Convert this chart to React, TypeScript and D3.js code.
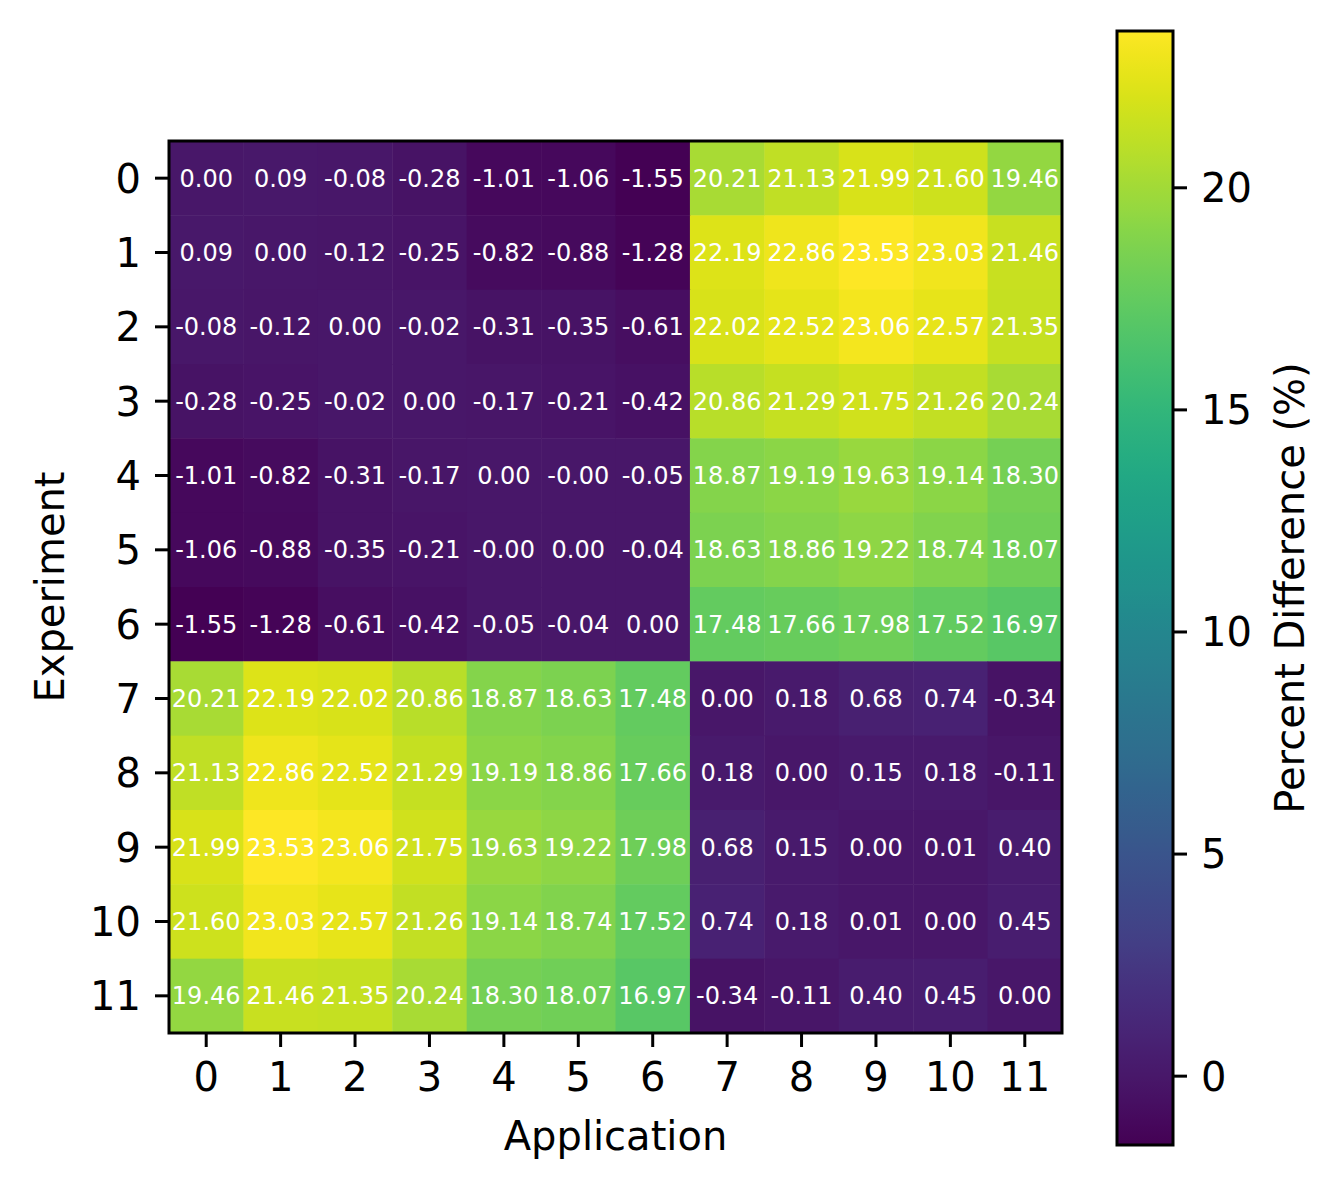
import React from "react";
import * as d3 from "d3";

const applications = ["0","1","2","3","4","5","6","7","8","9","10","11"];
const experiments = ["0","1","2","3","4","5","6","7","8","9","10","11"];

const row0 = [0.0, 0.09, -0.08, -0.28, -1.01, -1.06, -1.55, 20.21, 21.13, 21.99, 21.6, 19.46];
const row1 = [0.09, 0.0, -0.12, -0.25, -0.82, -0.88, -1.28, 22.19, 22.86, 23.53, 23.03, 21.46];
const row2 = [-0.08, -0.12, 0.0, -0.02, -0.31, -0.35, -0.61, 22.02, 22.52, 23.06, 22.57, 21.35];
const row3 = [-0.28, -0.25, -0.02, 0.0, -0.17, -0.21, -0.42, 20.86, 21.29, 21.75, 21.26, 20.24];
const row4 = [-1.01, -0.82, -0.31, -0.17, 0.0, -0.001, -0.05, 18.87, 19.19, 19.63, 19.14, 18.3];
const row5 = [-1.06, -0.88, -0.35, -0.21, -0.001, 0.0, -0.04, 18.63, 18.86, 19.22, 18.74, 18.07];
const row6 = [-1.55, -1.28, -0.61, -0.42, -0.05, -0.04, 0.0, 17.48, 17.66, 17.98, 17.52, 16.97];
const row7 = [20.21, 22.19, 22.02, 20.86, 18.87, 18.63, 17.48, 0.0, 0.18, 0.68, 0.74, -0.34];
const row8 = [21.13, 22.86, 22.52, 21.29, 19.19, 18.86, 17.66, 0.18, 0.0, 0.15, 0.18, -0.11];
const row9 = [21.99, 23.53, 23.06, 21.75, 19.63, 19.22, 17.98, 0.68, 0.15, 0.0, 0.01, 0.4];
const row10 = [21.6, 23.03, 22.57, 21.26, 19.14, 18.74, 17.52, 0.74, 0.18, 0.01, 0.0, 0.45];
const row11 = [19.46, 21.46, 21.35, 20.24, 18.3, 18.07, 16.97, -0.34, -0.11, 0.4, 0.45, 0.0];
const matrix = [row0, row1, row2, row3, row4, row5, row6, row7, row8, row9, row10, row11];

const colorbarTicks = [0, 5, 10, 15, 20];

const FONT = "DejaVu Sans, sans-serif";

export default function App() {
  const left = 169, top = 141, right = 1062, bottom = 1033;
  const x = d3.scaleBand().domain(applications).range([left, right]).padding(0);
  const y = d3.scaleBand().domain(experiments).range([top, bottom]).padding(0);
  const all = matrix.flat();
  const vmin = d3.min(all)!;
  const vmax = d3.max(all)!;
  const color = d3.scaleSequential(d3.interpolateViridis).domain([vmin, vmax]);

  const cbLeft = 1117, cbRight = 1173, cbTop = 31, cbBottom = 1145;
  const cbScale = d3.scaleLinear().domain([vmin, vmax]).range([cbBottom, cbTop]);
  const stops = d3.range(0, 1.0001, 0.02);

  const tickLen = 14;
  const tickFont = 40;

  return (
    <svg width={1342} height={1190} style={{ position: "absolute", left: 0, top: 0, background: "white" }} fontFamily={FONT}>
      <defs>
        <linearGradient id="cb" x1="0" y1="1" x2="0" y2="0">
          {stops.map((t, i) => (
            <stop key={i} offset={`${t * 100}%`} stopColor={d3.interpolateViridis(t)} />
          ))}
        </linearGradient>
      </defs>
      {matrix.map((row, r) =>
        row.map((v, c) => (
          <rect key={`c${r}-${c}`} x={x(applications[c])!} y={y(experiments[r])!}
            width={x.bandwidth() + 0.5} height={y.bandwidth() + 0.5} fill={color(v)} />
        ))
      )}
      {matrix.map((row, r) =>
        row.map((v, c) => (
          <text key={`t${r}-${c}`} x={x(applications[c])! + x.bandwidth() / 2}
            y={y(experiments[r])! + y.bandwidth() / 2} dy="0.36em"
            textAnchor="middle" fontSize={24} fill="white">{v.toFixed(2)}</text>
        ))
      )}
      <rect x={left} y={top} width={right - left} height={bottom - top} fill="none" stroke="black" strokeWidth={3} />
      {applications.map((a) => {
        const cx = x(a)! + x.bandwidth() / 2;
        return (
          <g key={`xa${a}`}>
            <line x1={cx} x2={cx} y1={bottom} y2={bottom + tickLen} stroke="black" strokeWidth={3} />
            <text x={cx} y={bottom + tickLen + 14} dy="0.76em" textAnchor="middle" fontSize={tickFont}>{a}</text>
          </g>
        );
      })}
      {experiments.map((e) => {
        const cy = y(e)! + y.bandwidth() / 2;
        return (
          <g key={`ya${e}`}>
            <line x1={left - tickLen} x2={left} y1={cy} y2={cy} stroke="black" strokeWidth={3} />
            <text x={left - tickLen - 14} y={cy} dy="0.36em" textAnchor="end" fontSize={tickFont}>{e}</text>
          </g>
        );
      })}
      <text x={(left + right) / 2} y={1150} textAnchor="middle" fontSize={tickFont}>Application</text>
      <text transform={`translate(64,${(top + bottom) / 2}) rotate(-90)`} textAnchor="middle" fontSize={tickFont}>Experiment</text>

      <rect x={cbLeft} y={cbTop} width={cbRight - cbLeft} height={cbBottom - cbTop} fill="url(#cb)" stroke="black" strokeWidth={3} />
      {colorbarTicks.map((t) => {
        const ty = cbScale(t);
        return (
          <g key={`cb${t}`}>
            <line x1={cbRight} x2={cbRight + tickLen} y1={ty} y2={ty} stroke="black" strokeWidth={3} />
            <text x={cbRight + tickLen + 14} y={ty} dy="0.36em" textAnchor="start" fontSize={tickFont}>{t}</text>
          </g>
        );
      })}
      <text transform={`translate(1304,${(cbTop + cbBottom) / 2}) rotate(-90)`} textAnchor="middle" fontSize={tickFont}>Percent Difference (%)</text>
    </svg>
  );
}
